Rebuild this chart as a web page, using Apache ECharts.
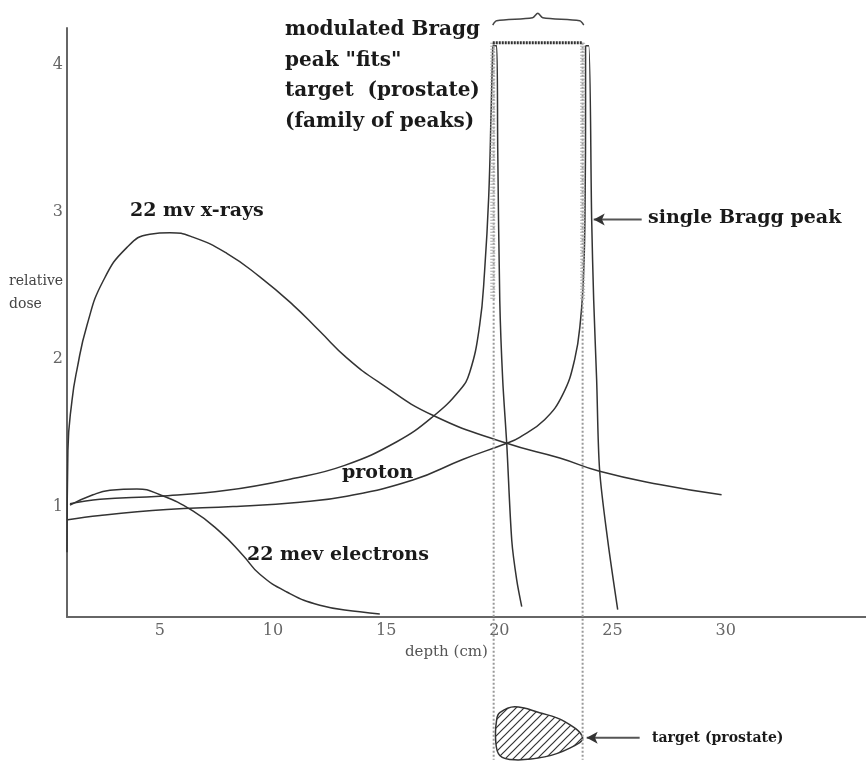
<!DOCTYPE html>
<html>
<head>
<meta charset="utf-8">
<script src="https://cdn.jsdelivr.net/npm/echarts@6/dist/echarts.min.js"></script>
<style>
html, body { margin: 0; padding: 0; background: #fff; }
#chart { width: 866px; height: 771px; }
</style>
</head>
<body>
<div id="chart"></div>
<script>
// [depth (cm), relative dose]
const xrayCurve = [
  [0.90, 0.69], [0.94, 1.38], [1.12, 1.72], [1.34, 1.93], [1.78, 2.23], [2.49, 2.53],
  [3.55, 2.76], [4.56, 2.85], [5.45, 2.86], [6.46, 2.83], [7.96, 2.72], [9.42, 2.56],
  [10.88, 2.37], [12.07, 2.19], [13.26, 2.01], [14.72, 1.84], [17.06, 1.62], [20.33, 1.43],
  [22.67, 1.33], [24.43, 1.24], [27.08, 1.15], [29.82, 1.08]
];
// proton peak that ends at ~20 cm: rising part, then the drop
const protonShallowRise = [
  [1.03, 1.02], [2.36, 1.05], [5.01, 1.07], [7.96, 1.11], [10.88, 1.19], [13.17, 1.28],
  [15.47, 1.44], [17.06, 1.61], [18.25, 1.79], [18.69, 1.91], [19.13, 2.23], [19.35, 2.60],
  [19.53, 3.10], [19.64, 3.70], [19.71, 4.13]
];
const protonShallowFall = [
  [19.71, 4.13], [19.88, 4.13], [19.93, 3.42], [20.02, 2.40], [20.15, 1.86], [20.33, 1.42],
  [20.55, 0.77], [20.77, 0.50], [20.99, 0.32]
];
// single Bragg peak at ~24 cm
const protonDeepRise = [
  [0.94, 0.91], [2.36, 0.94], [5.31, 0.98], [8.23, 1.00], [11.19, 1.03], [13.26, 1.07],
  [16.18, 1.18], [18.38, 1.32], [20.33, 1.43], [20.90, 1.47], [22.00, 1.59], [22.80, 1.76],
  [23.33, 2.00], [23.59, 2.27], [23.73, 2.61], [23.79, 3.08], [23.81, 3.76], [23.81, 4.13]
];
const protonDeepFall = [
  [23.81, 4.13], [23.95, 4.13], [24.08, 2.95], [24.17, 2.40], [24.30, 1.86], [24.43, 1.25],
  [24.79, 0.77], [25.23, 0.30]
];
const electronCurve = [
  [1.03, 1.01], [2.05, 1.08], [2.80, 1.11], [3.99, 1.12], [5.01, 1.08], [6.46, 0.97],
  [7.65, 0.83], [8.67, 0.67], [9.42, 0.54], [10.61, 0.42], [12.07, 0.33], [13.84, 0.285],
  [14.72, 0.27]
];
// spread-out (modulated) peak box and target guides
const sobpTop = [[19.71, 4.15], [23.68, 4.15]];
const sobpLeft = [[19.71, 4.15], [19.71, 2.40]];
const sobpRight = [[23.68, 4.15], [23.68, 2.40]];
const guideLeft = [[19.75, 4.15], [19.75, -0.72]];
const guideRight = [[23.68, 4.15], [23.68, -0.72]];
const brace = [
  [19.71, 4.27], [19.88, 4.30], [21.47, 4.32], [21.70, 4.35], [21.92, 4.32], [23.55, 4.30], [23.73, 4.27]
];
const targetOutline = [
  [20.02, -0.40], [20.68, -0.36], [21.78, -0.40], [22.89, -0.46], [23.68, -0.57], [23.11, -0.64],
  [22.00, -0.70], [20.68, -0.72], [20.02, -0.69], [19.84, -0.59], [19.88, -0.45]
];
const braggArrow = [[26.29, 2.95], [24.17, 2.95]];
const targetArrow = [[26.20, -0.57], [23.86, -0.57]];
const xTicks = [5, 10, 15, 20, 25, 30];
const yTicks = [1, 2, 3, 4];

const chart = echarts.init(document.getElementById("chart"));

// diagonal hatching for the target
const hatch = document.createElement("canvas");
hatch.width = 8;
hatch.height = 8;
const hc = hatch.getContext("2d");
hc.strokeStyle = "#333";
hc.lineWidth = 1.2;
hc.beginPath();
hc.moveTo(0, 8); hc.lineTo(8, 0);
hc.moveTo(-2, 2); hc.lineTo(2, -2);
hc.moveTo(6, 10); hc.lineTo(10, 6);
hc.stroke();

function curve(data, smooth, lineStyle) {
  return {
    type: "line",
    data: data,
    symbol: "none",
    smooth: smooth,
    clip: false,
    silent: true,
    lineStyle: Object.assign({ color: "#333", width: 1.5 }, lineStyle || {})
  };
}

// pointer line with an arrow head at its second point
function arrow(pts) {
  return {
    type: "line",
    clip: false,
    silent: true,
    showSymbol: true,
    lineStyle: { color: "#555", width: 2 },
    itemStyle: { color: "#333" },
    data: [
      { value: pts[0], symbol: "none" },
      { value: pts[1], symbol: "arrow", symbolSize: [9, 11], symbolRotate: 90 }
    ]
  };
}

const labelFont = 'bold 19px "DejaVu Serif"';

const option = {
  animation: false,
  backgroundColor: "#fff",
  grid: { left: 67, top: 28, right: 0, bottom: 154 },
  xAxis: {
    type: "value",
    min: 0.9,
    max: 36.2,
    axisLine: { lineStyle: { color: "#666", width: 2 } },
    axisTick: { show: false },
    splitLine: { show: false },
    axisLabel: {
      customValues: xTicks,
      margin: 6,
      color: "#666",
      fontFamily: "DejaVu Serif",
      fontSize: 16
    }
  },
  yAxis: {
    type: "value",
    min: 0.25,
    max: 4.25,
    axisLine: { show: true, lineStyle: { color: "#666", width: 2 } },
    axisTick: { show: false },
    splitLine: { show: false },
    axisLabel: {
      customValues: yTicks,
      margin: 4,
      color: "#666",
      fontFamily: "DejaVu Serif",
      fontSize: 16
    }
  },
  graphic: [
    {
      type: "text", left: 285, top: 15,
      style: {
        text: 'modulated Bragg\npeak "fits"\ntarget  (prostate)\n(family of peaks)',
        font: 'bold 20px "DejaVu Serif"', lineHeight: 30.5, fill: "#1a1a1a"
      }
    },
    { type: "text", left: 130, top: 202, style: { text: "22 mv x-rays", font: labelFont, fill: "#1a1a1a" } },
    { type: "text", left: 648, top: 209, style: { text: "single Bragg peak", font: labelFont, fill: "#1a1a1a" } },
    { type: "text", left: 342, top: 464, style: { text: "proton", font: labelFont, fill: "#1a1a1a" } },
    { type: "text", left: 247, top: 546, style: { text: "22 mev electrons", font: labelFont, fill: "#1a1a1a" } },
    { type: "text", left: 652, top: 731, style: { text: "target (prostate)", font: 'bold 14px "DejaVu Serif"', fill: "#1a1a1a" } },
    { type: "text", left: 9, top: 270, style: { text: "relative\ndose", font: '14px "DejaVu Serif"', lineHeight: 23, fill: "#444" } },
    { type: "text", left: 405, top: 645, style: { text: "depth (cm)", font: '15px "DejaVu Serif"', fill: "#555" } }
  ],
  series: [
    curve(xrayCurve, 0.5),
    curve(protonShallowRise, 0.45),
    curve(protonShallowFall, 0.3),
    curve(protonDeepRise, 0.45),
    curve(protonDeepFall, 0.3),
    curve(electronCurve, 0.5),
    curve(guideLeft, false, { color: "#999", width: 2, type: [2, 2] }),
    curve(guideRight, false, { color: "#999", width: 2, type: [2, 2] }),
    curve(sobpLeft, false, { color: "#aaa", width: 5, type: [1, 2] }),
    curve(sobpRight, false, { color: "#aaa", width: 5, type: [1, 2] }),
    curve(sobpTop, false, { color: "#333", width: 3, type: [2, 1] }),
    curve(brace, 0.3, { color: "#444", width: 1.5 }),
    arrow(braggArrow),
    arrow(targetArrow),
    {
      type: "custom",
      coordinateSystem: "cartesian2d",
      silent: true,
      clip: false,
      data: [[targetOutline[0][0], targetOutline[0][1]]],
      renderItem: function (params, api) {
        return {
          type: "polygon",
          shape: { points: targetOutline.map(function (p) { return api.coord(p); }), smooth: 0.4 },
          style: { fill: { image: hatch, repeat: "repeat" }, stroke: "#333", lineWidth: 1.5 }
        };
      }
    }
  ]
};
chart.setOption(option);
</script>
</body>
</html>
